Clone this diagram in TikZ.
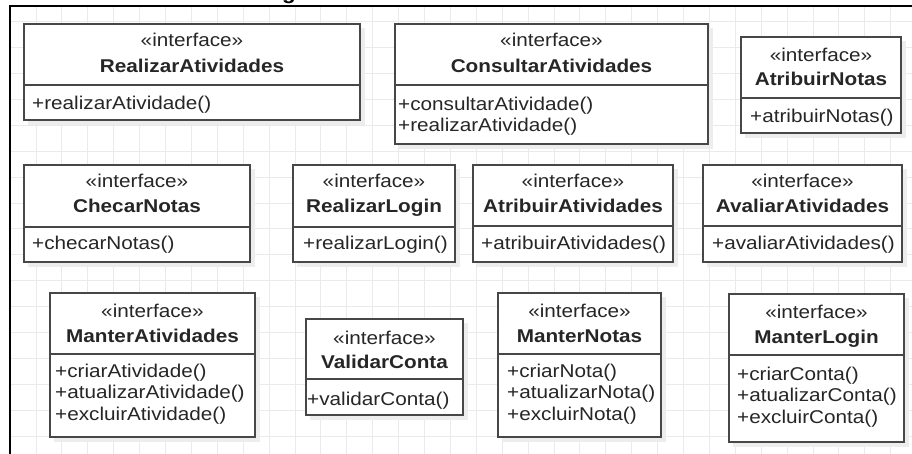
\documentclass[tikz,border=0pt]{standalone}
\usepackage{fontspec}
\setmainfont{Liberation Sans}[FakeStretch=1.12]
\definecolor{boxc}{HTML}{474747}
\definecolor{txtc}{HTML}{262626}
\definecolor{gridc}{HTML}{EAEAEA}
\definecolor{shadowc}{HTML}{EDEDED}
\tikzset{
  umlbox/.style={draw=boxc, line width=1.7pt, fill=white, inner sep=0pt, outer sep=0pt, anchor=north west},
  boxline/.style={draw=boxc, line width=1.7pt},
  txt/.style={font=\fontsize{18.5}{21.5}\selectfont, text=txtc, inner sep=0pt},
  stereo/.style={txt, anchor=base},
  cname/.style={txt, font=\fontsize{18.5}{21.5}\selectfont\bfseries, anchor=base},
  meth/.style={txt, anchor=base west},
  gridline/.style={draw=gridc, line width=0.8pt},
  frameline/.style={draw=black, line width=2pt}
}
% #1 name, #2 L, #3 T, #4 R, #5 B, #6 divider, #7 stereo baseline, #8 name baseline, #9 class name
\newcommand\umlcls[9]{%
  \fill[shadowc] (#2+4,#3+4) rectangle (#4+5,#5+5);
  \node[umlbox, minimum width={(#4-#2)*1pt}, minimum height={(#5-#3)*1pt}] (#1) at (#2,#3) {};
  \draw[boxline] (#1.west |- 0,#6) -- (#1.east |- 0,#6);
  \node[stereo] (#1-st) at ({(#2+#4)/2},#7) {«interface»};
  \node[cname] (#1-nm) at ({(#2+#4)/2},#8) {#9};
}
% #1 node name, #2 x, #3 baseline, #4 text
\newcommand\umlmeth[4]{\node[meth] (#1) at (#2,#3) {#4};}
\begin{document}
\begin{tikzpicture}[x=1pt,y=-1pt]
\useasboundingbox (0,0) rectangle (912,454);
\fill[white] (0,0) rectangle (912,454);
% grid
\foreach \i in {0,...,35} {\draw[gridline] (10+\i*25.9,6) -- (10+\i*25.9,454);}
\foreach \j in {0,...,16} {\draw[gridline] (10,21.7+\j*25.9) -- (912,21.7+\j*25.9);}
% frame
\draw[frameline] (10,455) -- (10,6.5) -- (913,6.5);
% cut-off title fragment
\begin{scope}
\clip (0,0) rectangle (912,454);
\node[font=\fontsize{20}{24}\selectfont\bfseries, text=black, inner sep=0pt, anchor=base] (title) at (289,0) {g};
\end{scope}

% row 1
\umlcls{ra}{24}{24}{360}{120}{85}{47}{73}{RealizarAtividades}
\umlmeth{ra-m1}{32}{110}{+realizarAtividade()}

\umlcls{ca}{395}{24}{708}{144}{85}{47}{73}{ConsultarAtividades}
\umlmeth{ca-m1}{398}{111}{+consultarAtividade()}
\umlmeth{ca-m2}{398}{132}{+realizarAtividade()}

\umlcls{an}{741}{37}{901}{133}{98}{61.5}{86}{AtribuirNotas}
\umlmeth{an-m1}{750}{123}{+atribuirNotas()}

% row 2
\umlcls{cn}{24}{165}{250}{262}{227}{188}{213}{ChecarNotas}
\umlmeth{cn-m1}{32}{250}{+checarNotas()}

\umlcls{rl}{293}{165}{455}{262}{227}{188}{213}{RealizarLogin}
\umlmeth{rl-m1}{303}{250}{+realizarLogin()}

\umlcls{aa}{473}{165}{673}{262}{226}{188}{213}{AtribuirAtividades}
\umlmeth{aa-m1}{481}{250}{+atribuirAtividades()}

\umlcls{av}{703}{165}{902}{262}{226}{188}{213}{AvaliarAtividades}
\umlmeth{av-m1}{712}{250}{+avaliarAtividades()}

% row 3
\umlcls{ma}{50}{293}{255}{437}{354}{317}{342}{ManterAtividades}
\umlmeth{ma-m1}{55}{377}{+criarAtividade()}
\umlmeth{ma-m2}{55}{398.5}{+atualizarAtividade()}
\umlmeth{ma-m3}{55}{420}{+excluirAtividade()}

\umlcls{vc}{306}{319}{463}{415}{379}{344}{368}{ValidarConta}
\umlmeth{vc-m1}{307}{405}{+validarConta()}

\umlcls{mn}{498}{293}{661}{437}{354}{317}{342}{ManterNotas}
\umlmeth{mn-m1}{507}{377}{+criarNota()}
\umlmeth{mn-m2}{507}{398.5}{+atualizarNota()}
\umlmeth{mn-m3}{507}{420}{+excluirNota()}

\umlcls{ml}{729}{294}{904}{442}{355}{318}{343}{ManterLogin}
\umlmeth{ml-m1}{737}{380}{+criarConta()}
\umlmeth{ml-m2}{737}{401.5}{+atualizarConta()}
\umlmeth{ml-m3}{737}{423}{+excluirConta()}
\end{tikzpicture}
\end{document}
